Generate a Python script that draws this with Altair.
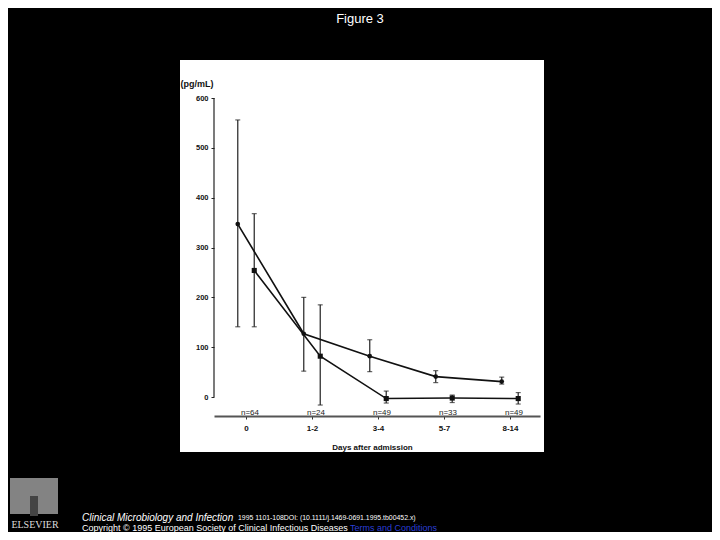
import json
import altair as alt
import pandas as pd

# ---- data ----
days = ["0", "1-2", "3-4", "5-7", "8-14"]
n_labels = ["n=64", "n=24", "n=49", "n=33", "n=49"]
a_mean = [347, 127, 82, 41, 31]
a_low = [141, 52, 51, 29, 26]
a_high = [556, 200, 115, 53, 40]
b_mean = [254, 82, -3, -2, -3]
b_low = [141, -16, -12, -11, -14]
b_high = [368, 185, 12, 4, 9]
y_ticks = [0, 100, 200, 300, 400, 500, 600]

rows = []
for i in range(len(days)):
    rows.append({"idx": i, "series": "A", "mean": a_mean[i], "low": a_low[i], "high": a_high[i]})
    rows.append({"idx": i, "series": "B", "mean": b_mean[i], "low": b_low[i], "high": b_high[i]})
df = pd.DataFrame(rows)
ndf = pd.DataFrame({"idx": list(range(len(days))), "n": n_labels})

FONT = "Liberation Sans"
W, H = 326, 318

xscale = alt.Scale(domain=[-0.485, 4.455], nice=False, zero=False)
yscale = alt.Scale(domain=[-38, 600], nice=False, zero=False)

x_axis = alt.Axis(values=list(range(len(days))),
                  labelExpr=json.dumps(days) + "[datum.value]",
                  title="Days after admission", grid=False, zindex=1,
                  domainColor="#555555", domainWidth=2,
                  tickColor="#333333", tickSize=3, tickWidth=1,
                  labelPadding=5, labelFont=FONT, labelFontSize=8,
                  labelFontWeight="bold", labelColor="#111111",
                  titleFont=FONT, titleFontSize=8, titleFontWeight="bold",
                  titleColor="#111111", titlePadding=11, titleX=158)
y_axis = alt.Axis(values=y_ticks, domain=False, grid=False, zindex=1,
                  tickSize=3, tickColor="#222222", tickWidth=1,
                  labelPadding=3, labelFont=FONT, labelFontSize=7.5,
                  labelFontWeight="bold", labelColor="#111111",
                  title="(pg/mL)", titleAngle=0, titleX=-34, titleY=-15,
                  titleAlign="left", titleBaseline="middle",
                  titleFont=FONT, titleFontSize=9, titleFontWeight="bold",
                  titleColor="#111111")


def X():
    return alt.X("xpos:Q", scale=xscale, axis=x_axis)


def Y(field):
    return alt.Y(field, scale=yscale, axis=y_axis)


base = alt.Chart(df).transform_calculate(
    xpos="datum.idx + (datum.series == 'A' ? -0.125 : 0.125)"
)

one = alt.Data(values=[{"k": 1}])

panel = alt.Chart(one).mark_rect(color="white").encode(
    x=alt.value(-34), x2=alt.value(330), y=alt.value(-38), y2=alt.value(354)
)

yline = alt.Chart(alt.Data(values=[{"y0": 0, "y1": 600}])).mark_rule(
    color="#222222", strokeWidth=1.2
).encode(x=alt.value(0), y=Y("y0:Q"), y2="y1:Q")

err = base.mark_rule(color="#333333", strokeWidth=1.3).encode(
    x=X(), y=Y("low:Q"), y2="high:Q"
)
caps = base.transform_fold(["low", "high"], as_=["which", "val"]).mark_tick(
    color="#222222", orient="horizontal", size=5, thickness=1.2
).encode(x=X(), y=Y("val:Q"))

lines = base.mark_line(color="#111111", strokeWidth=1.6).encode(
    x=X(), y=Y("mean:Q"), detail="series:N"
)
pts_a = base.transform_filter("datum.series == 'A'").mark_point(
    shape="circle", filled=True, color="#111111", size=22, opacity=1
).encode(x=X(), y=Y("mean:Q"))
pts_b = base.transform_filter("datum.series == 'B'").mark_point(
    shape="square", filled=True, color="#111111", size=26, opacity=1
).encode(x=X(), y=Y("mean:Q"))

nlab = alt.Chart(ndf).transform_calculate(xpos="datum.idx").mark_text(
    font=FONT, fontSize=8, color="#222222", baseline="middle", dx=4
).encode(x=X(), y=alt.value(315), text="n:N")

fig_title = alt.Chart(one).mark_text(
    text="Figure 3", font=FONT, fontSize=13, color="white", align="center", baseline="middle"
).encode(x=alt.value(146), y=alt.value(-79))

FY1, FY2 = 420, 430
foot1a = alt.Chart(one).mark_text(
    text="Clinical Microbiology and Infection", font=FONT, fontSize=10, fontStyle="italic",
    color="white", align="left", baseline="middle"
).encode(x=alt.value(-132), y=alt.value(FY1))
foot1b = alt.Chart(one).mark_text(
    text="1995 1101-108DOI: (10.1111/j.1469-0691.1995.tb00452.x)", font=FONT, fontSize=6.9,
    color="white", align="left", baseline="middle"
).encode(x=alt.value(24), y=alt.value(FY1))
foot2a = alt.Chart(one).mark_text(
    text="Copyright © 1995 European Society of Clinical Infectious Diseases", font=FONT,
    fontSize=9, color="white", align="left", baseline="middle"
).encode(x=alt.value(-132), y=alt.value(FY2))
foot2b = alt.Chart(one).mark_text(
    text="Terms and Conditions", font=FONT, fontSize=9, color="#2a3fd6",
    align="left", baseline="middle"
).encode(x=alt.value(136), y=alt.value(FY2))
foot2u = alt.Chart(one).mark_rule(color="#2a3fd6", strokeWidth=0.8).encode(
    x=alt.value(136), x2=alt.value(224), y=alt.value(FY2 + 5)
)

logo = alt.Chart(one).mark_rect(color="#9a9a9a", opacity=0.85).encode(
    x=alt.value(-204), x2=alt.value(-156), y=alt.value(380), y2=alt.value(416)
)
logo_trunk = alt.Chart(one).mark_rect(color="#444444").encode(
    x=alt.value(-184), x2=alt.value(-176), y=alt.value(398), y2=alt.value(418)
)
logo_text = alt.Chart(one).mark_text(
    text="ELSEVIER", font="Liberation Serif", fontSize=10, color="#dddddd",
    align="center", baseline="middle"
).encode(x=alt.value(-179), y=alt.value(427))

chart = alt.layer(
    panel, yline, err, caps, lines, pts_a, pts_b, nlab,
    fig_title, foot1a, foot1b, foot2a, foot2b, foot2u, logo, logo_trunk, logo_text
).properties(
    width=W, height=H, autosize="none", background="black",
    padding={"left": 206, "top": 90, "right": 172, "bottom": 116}
).configure_view(strokeWidth=0)

chart.save("out.html", embed_options={"renderer": "svg", "actions": False})
